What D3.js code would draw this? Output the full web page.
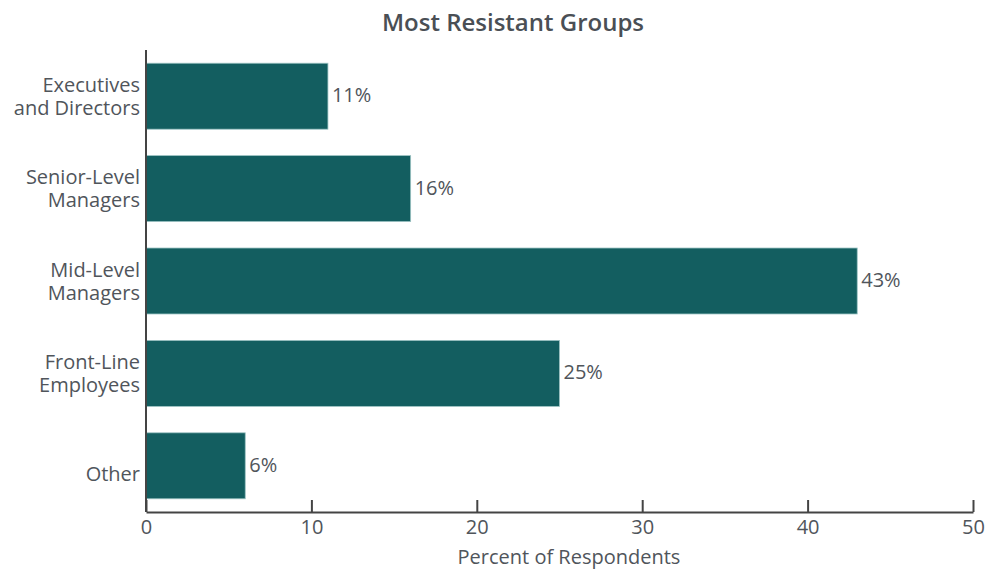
<!DOCTYPE html>
<html><head><meta charset="utf-8">
<script src="https://cdn.jsdelivr.net/npm/d3@7"></script>
<style>body{margin:0;background:#fff;}svg{display:block;font-family:"Open Sans",sans-serif;}</style>
</head><body><svg id="c" width="987" height="571"></svg>
<script>
const categories = [["Executives","and Directors"],["Senior-Level","Managers"],["Mid-Level","Managers"],["Front-Line","Employees"],["Other"]];
const values = [11,16,43,25,6];
const xTicks = [0,10,20,30,40,50];
const title = "Most Resistant Groups";
const xTitle = "Percent of Respondents";

const svg = d3.select("#c");
const m = {left:146, right:973, top:50, bottom:512};
const x = d3.scaleLinear().domain([0,50]).range([m.left, m.right]);
const y = d3.scaleBand().domain(d3.range(categories.length)).range([m.top, m.bottom]).paddingInner(0.286).paddingOuter(0.143);
const textCol = "#50555b";

svg.append("text").attr("x",513).attr("y",31).attr("text-anchor","middle")
  .attr("font-size",24).attr("font-weight",600).attr("fill","#4a4f55").text(title);

svg.selectAll("rect.bar").data(values).join("rect").attr("class","bar")
  .attr("x",x(0)).attr("y",(d,i)=>y(i)).attr("width",d=>x(d)-x(0)).attr("height",y.bandwidth())
  .attr("fill","#135e60").attr("stroke","#9cc3c3").attr("stroke-width",0.8);

svg.selectAll("text.val").data(values).join("text").attr("class","val")
  .attr("x",d=>x(d)+4).attr("y",(d,i)=>y(i)+y.bandwidth()/2).attr("dy","0.3em")
  .attr("font-size",20).attr("fill",textCol).text(d=>d+"%");

// x axis
const xa = svg.append("g").attr("transform",`translate(0,${m.bottom})`)
  .call(d3.axisBottom(x).tickValues(xTicks).tickSizeInner(-12).tickSizeOuter(0).tickPadding(8));
xa.select(".domain").attr("stroke","#444").attr("stroke-width",2);
xa.selectAll(".tick line").attr("stroke","#444").attr("stroke-width",2);
xa.selectAll(".tick text").attr("font-size",20).attr("fill",textCol).attr("font-family","Open Sans, sans-serif");

// y axis line
svg.append("line").attr("x1",m.left).attr("x2",m.left).attr("y1",m.top).attr("y2",m.bottom)
  .attr("stroke","#444").attr("stroke-width",2);

// category labels
categories.forEach((lines,i)=>{
  const cy = y(i)+y.bandwidth()/2;
  const lh = 23;
  const t = svg.append("text").attr("text-anchor","end").attr("font-size",20).attr("fill",textCol);
  const n = lines.length;
  lines.forEach((l,j)=>{
    t.append("tspan").attr("x",140).attr("y", cy + (j-(n-1)/2)*lh + (n===1?8:0)).attr("dy","0.35em").text(l);
  });
});

svg.append("text").attr("x",569).attr("y",564).attr("text-anchor","middle")
  .attr("font-size",20).attr("fill",textCol).text(xTitle);
</script></body></html>
